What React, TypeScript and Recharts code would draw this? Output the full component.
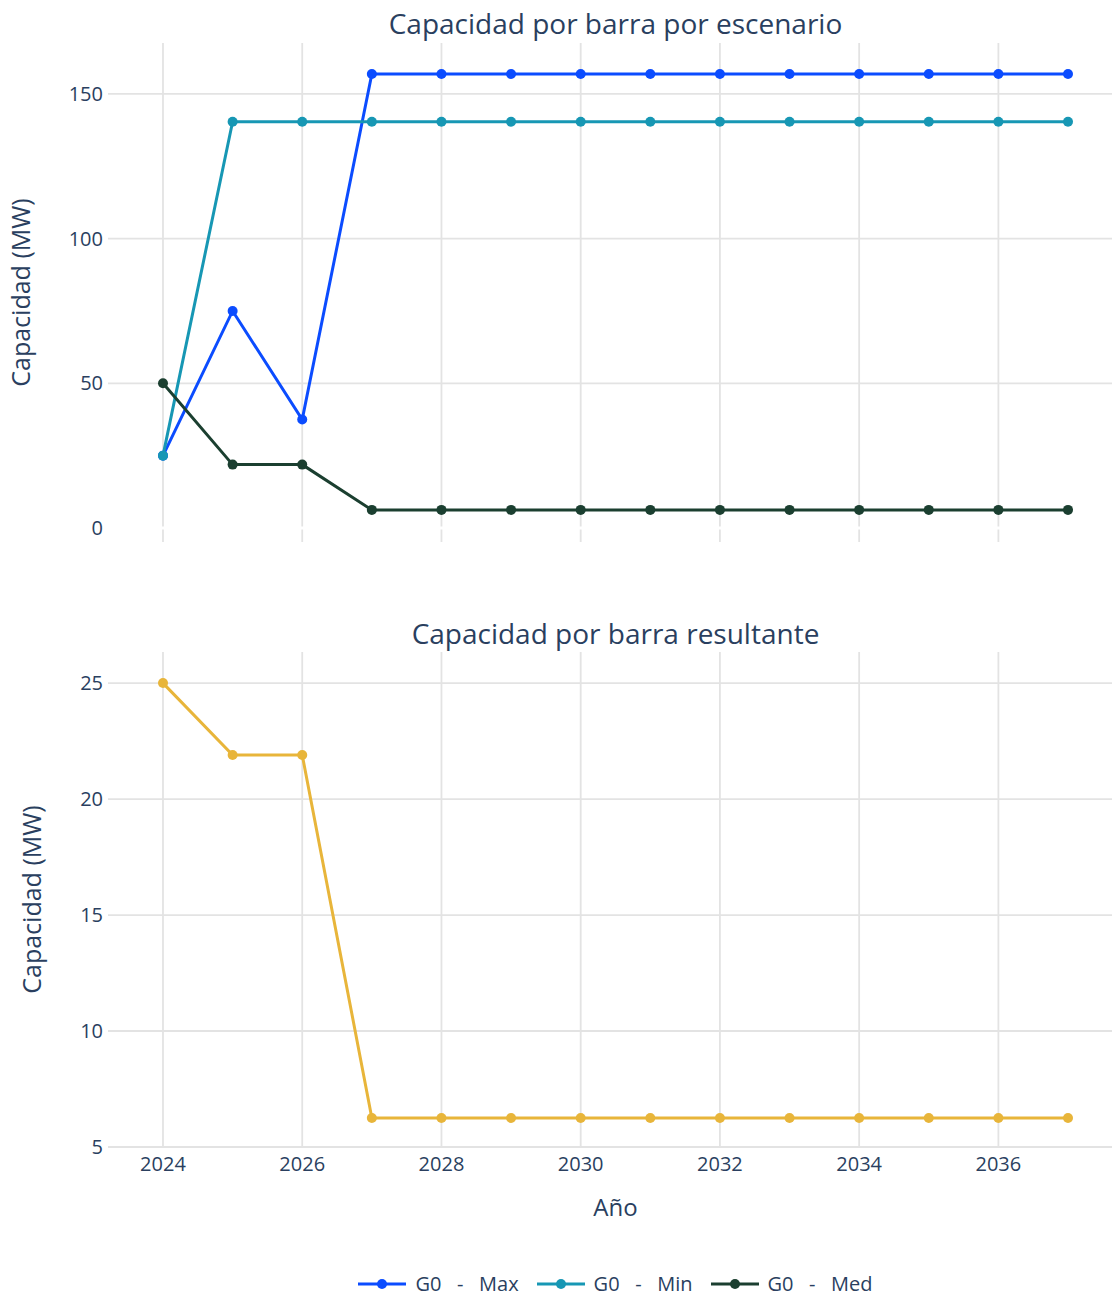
import { LineChart, Line, XAxis, YAxis, CartesianGrid, ReferenceLine } from "recharts";

const years = [2024, 2025, 2026, 2027, 2028, 2029, 2030, 2031, 2032, 2033, 2034, 2035, 2036, 2037];
const maxValues = [25, 75, 37.5, 156.9, 156.9, 156.9, 156.9, 156.9, 156.9, 156.9, 156.9, 156.9, 156.9, 156.9];
const minValues = [25, 140.4, 140.4, 140.4, 140.4, 140.4, 140.4, 140.4, 140.4, 140.4, 140.4, 140.4, 140.4, 140.4];
const medValues = [50, 21.9, 21.9, 6.25, 6.25, 6.25, 6.25, 6.25, 6.25, 6.25, 6.25, 6.25, 6.25, 6.25];
const resultValues = [25, 21.9, 21.9, 6.25, 6.25, 6.25, 6.25, 6.25, 6.25, 6.25, 6.25, 6.25, 6.25, 6.25];

const xTicks = [2024, 2026, 2028, 2030, 2032, 2034, 2036];
const topTicks = [0, 50, 100, 150];
const bottomTicks = [5, 10, 15, 20, 25];

const series = [
  { key: "max", name: "G0   -   Max", color: "#0b4cff", values: maxValues },
  { key: "min", name: "G0   -   Min", color: "#1797b4", values: minValues },
  { key: "med", name: "G0   -   Med", color: "#1b3f30", values: medValues },
];
const resultColor = "#e8b53a";

const textColor = "#2a3f5f";
const gridColor = "#e3e3e3";
const font = '"Open Sans", verdana, arial, sans-serif';
const W = 1123;
const PLOT_LEFT = 108;

const topData = years.map((y, i) => {
  const row: Record<string, number> = { year: y };
  series.forEach((s) => {
    row[s.key] = s.values[i];
  });
  return row;
});
const bottomData = years.map((y, i) => ({ year: y, result: resultValues[i] }));

const tickStyle = { fill: textColor, fontSize: 20, fontFamily: font };

// top panel shares the x axis with the bottom one: keep the ticks (for the grid) but draw no labels
const EmptyTick = () => <g />;

function Title({ text, y }: { text: string; y: number }) {
  return (
    <div
      style={{
        position: "absolute",
        left: PLOT_LEFT,
        width: W - PLOT_LEFT,
        top: y - 21,
        height: 40,
        lineHeight: "40px",
        textAlign: "center",
        fontSize: 28,
        color: textColor,
        fontFamily: font,
        whiteSpace: "nowrap",
      }}
    >
      {text}
    </div>
  );
}

export default function App() {
  return (
    <div
      style={{
        position: "absolute",
        left: 0,
        top: 0,
        width: 1112,
        height: 1297,
        overflow: "hidden",
        background: "#fff",
        fontFamily: font,
      }}
    >
      <Title text="Capacidad por barra por escenario" y={24} />
      <div style={{ position: "absolute", left: 0, top: 0 }}>
        <LineChart width={W} height={545} data={topData} margin={{ top: 43, right: 0, bottom: 0, left: 0 }}>
          <CartesianGrid stroke={gridColor} strokeWidth={1.8} syncWithTicks />
          <XAxis
            dataKey="year"
            type="number"
            domain={[2023.21, 2037.79]}
            ticks={xTicks}
            allowDataOverflow
            tick={EmptyTick}
            tickLine={false}
            axisLine={false}
            tickSize={0}
            height={3}
          />
          <YAxis
            type="number"
            domain={[-4.84, 167.6]}
            ticks={topTicks}
            allowDataOverflow
            width={PLOT_LEFT}
            tick={tickStyle}
            tickLine={false}
            axisLine={false}
            tickSize={0}
            tickMargin={5}
            label={{
              value: "Capacidad (MW)",
              angle: -90,
              position: "insideLeft",
              offset: 21,
              style: { textAnchor: "middle", fill: textColor, fontSize: 25, fontFamily: font },
            }}
          />
          <ReferenceLine y={0} stroke="#ffffff" strokeWidth={3} />
          {series.map((s) => (
            <Line
              key={s.key}
              dataKey={s.key}
              name={s.name}
              stroke={s.color}
              strokeWidth={3}
              dot={{ r: 5, fill: s.color, stroke: "none" }}
              activeDot={false}
              isAnimationActive={false}
            />
          ))}
        </LineChart>
      </div>

      <Title text="Capacidad por barra resultante" y={634} />
      <div style={{ position: "absolute", left: 0, top: 600 }}>
        <LineChart width={W} height={645} data={bottomData} margin={{ top: 52, right: 0, bottom: 25, left: 0 }}>
          <CartesianGrid stroke={gridColor} strokeWidth={1.8} syncWithTicks />
          <XAxis
            dataKey="year"
            type="number"
            domain={[2023.21, 2037.79]}
            ticks={xTicks}
            allowDataOverflow
            tick={tickStyle}
            tickLine={false}
            axisLine={false}
            tickSize={0}
            tickMargin={10}
            height={73}
            label={{
              value: "Año",
              position: "insideBottom",
              offset: 4,
              style: { fill: textColor, fontSize: 24, fontFamily: font },
            }}
          />
          <YAxis
            type="number"
            domain={[5, 26.34]}
            ticks={bottomTicks}
            allowDataOverflow
            width={PLOT_LEFT}
            tick={tickStyle}
            tickLine={false}
            axisLine={false}
            tickSize={0}
            tickMargin={5}
            label={{
              value: "Capacidad (MW)",
              angle: -90,
              position: "insideLeft",
              offset: 32,
              style: { textAnchor: "middle", fill: textColor, fontSize: 25, fontFamily: font },
            }}
          />
          <Line
            dataKey="result"
            name="Resultante"
            stroke={resultColor}
            strokeWidth={3}
            dot={{ r: 5, fill: resultColor, stroke: "none" }}
            activeDot={false}
            isAnimationActive={false}
          />
        </LineChart>
      </div>

      <div
        style={{
          position: "absolute",
          left: PLOT_LEFT,
          width: W - PLOT_LEFT,
          top: 1284 - 15,
          height: 30,
          display: "flex",
          justifyContent: "center",
          alignItems: "center",
          gap: 18,
        }}
      >
        {series.map((s) => (
          <div key={s.key} style={{ display: "flex", alignItems: "center" }}>
            <svg width={48} height={14}>
              <line x1={0} y1={7} x2={48} y2={7} stroke={s.color} strokeWidth={3} />
              <circle cx={24} cy={7} r={5} fill={s.color} />
            </svg>
            <span
              style={{
                marginLeft: 9,
                fontSize: 20,
                color: textColor,
                whiteSpace: "pre",
                lineHeight: "30px",
              }}
            >
              {s.name}
            </span>
          </div>
        ))}
      </div>
    </div>
  );
}
